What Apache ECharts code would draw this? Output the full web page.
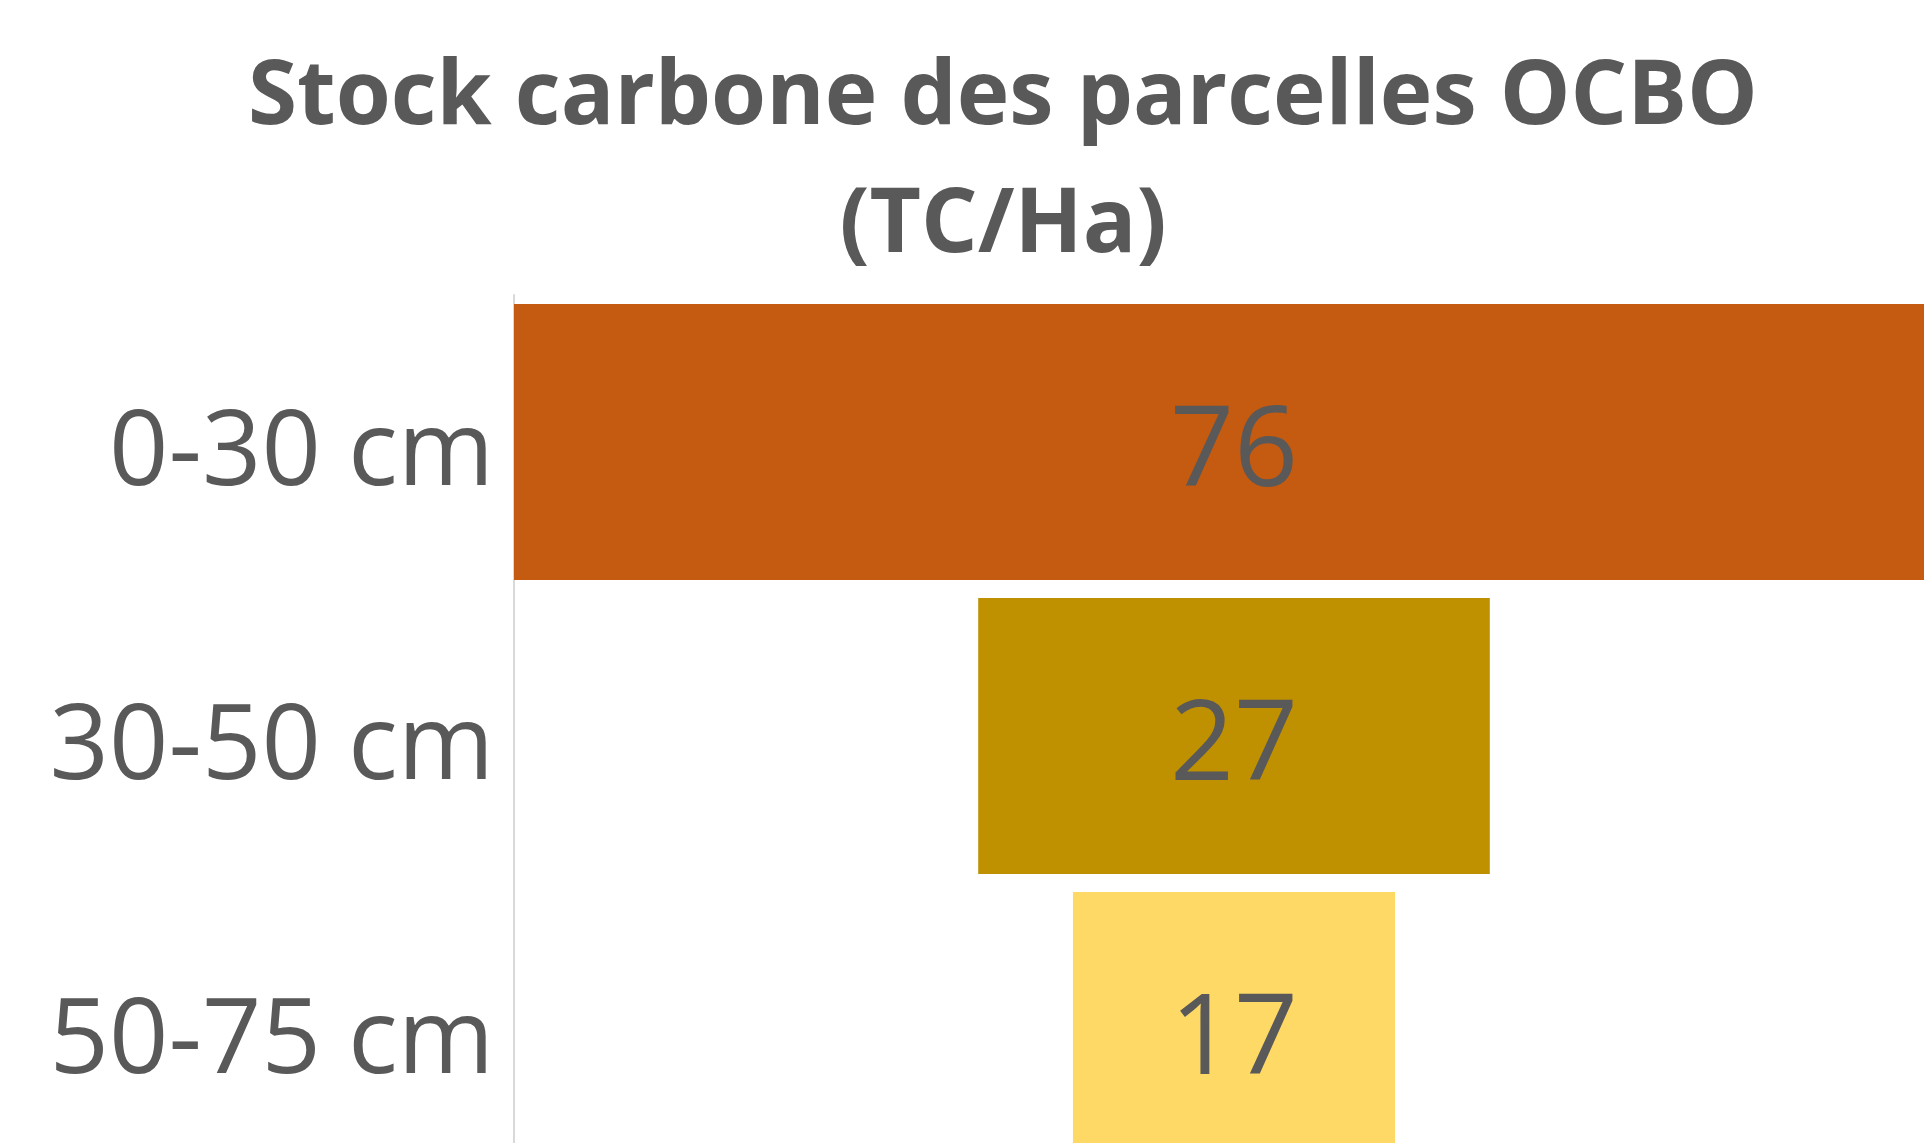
<!DOCTYPE html>
<html>
<head>
<meta charset="utf-8">
<script src="https://cdn.jsdelivr.net/npm/echarts@6/dist/echarts.min.js"></script>
<style>
html,body{margin:0;padding:0;background:#fff;overflow:hidden;width:1924px;height:1143px;}
#chart{width:1980px;height:1200px;}
</style>
</head>
<body>
<div id="chart"></div>
<script>
const titleText = 'Stock carbone des parcelles OCBO\n(TC/Ha)';
const categories = ['0-30 cm', '30-50 cm', '50-75 cm'];
const values = [76, 27, 17];
const barColors = ['#C55A11', '#BF9000', '#FFD966'];

const maxVal = Math.max(...values);
const offsets = values.map(v => (maxVal - v) / 2);

const chart = echarts.init(document.getElementById('chart'));
chart.setOption({
  animation: false,
  backgroundColor: '#ffffff',
  title: {
    text: titleText,
    left: 998,
    top: 30,
    textAlign: 'center',
    textStyle: {
      fontFamily: 'Open Sans',
      fontWeight: 'bold',
      fontSize: 89,
      lineHeight: 128,
      color: '#595959'
    }
  },
  grid: { left: 514, top: 295, width: 1440, height: 882, containLabel: false },
  xAxis: {
    type: 'value', min: 0, max: maxVal, show: false
  },
  yAxis: {
    type: 'category',
    data: categories,
    inverse: true,
    axisLine: { show: true, lineStyle: { color: '#D9D9D9', width: 2 } },
    axisTick: { show: false },
    axisLabel: {
      margin: 20,
      fontFamily: 'Open Sans',
      fontSize: 104,
      color: '#595959',
      formatter: v => '{a|' + v + '}',
      rich: {
        a: {
          padding: [26, 0, 0, 0],
          fontFamily: 'Open Sans',
          fontSize: 104,
          color: '#595959'
        }
      }
    }
  },
  series: [
    {
      type: 'bar', stack: 'funnel', data: offsets,
      itemStyle: { color: 'rgba(0,0,0,0)' },
      barCategoryGap: '6.2%',
      silent: true
    },
    {
      type: 'bar', stack: 'funnel',
      data: values.map((v, i) => ({ value: v, itemStyle: { color: barColors[i] } })),
      barCategoryGap: '6.2%',
      label: {
        show: true, position: 'inside', offset: [0, 12],
        fontFamily: 'Open Sans', fontSize: 112, color: '#595959'
      }
    }
  ]
});
</script>
</body>
</html>
